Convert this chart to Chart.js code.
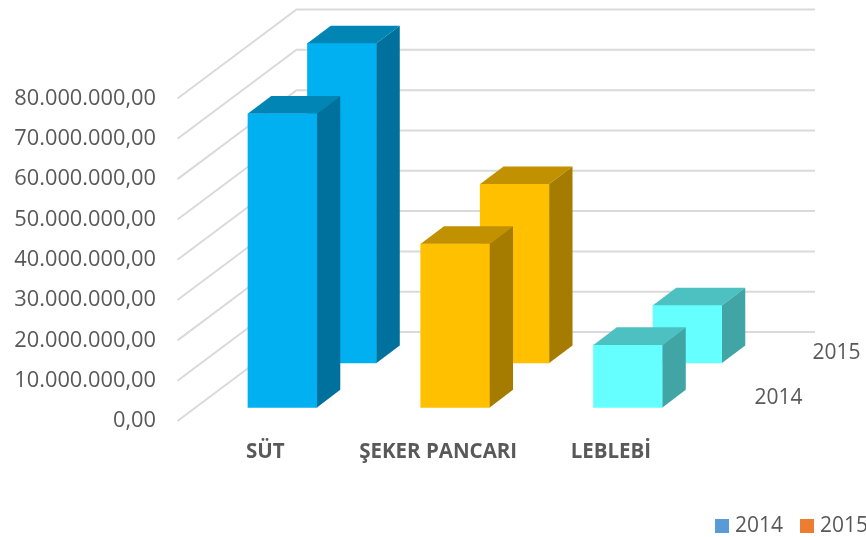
<!DOCTYPE html>
<html>
<head>
<meta charset="utf-8">
<style>html,body{margin:0;padding:0;background:#fff}canvas{display:block}</style>
<script src="https://cdn.jsdelivr.net/npm/chart.js@4"></script>
</head>
<body>
<canvas id="c" width="866" height="537"></canvas>
<script>
const categories = ['SÜT', 'ŞEKER PANCARI', 'LEBLEBİ'];
const series2014 = [72900000, 40600000, 15500000];
const series2015 = [79300000, 44400000, 14300000];
const seriesNames = ['2014', '2015'];
const legendColors = ['#5B9BD5', '#ED7D31'];
const frontColors = ['#00B0F0', '#FFC000', '#66FFFF'];
const topColors = ['#0085B5', '#C29100', '#4DC1C1'];
const sideColors = ['#00719C', '#A67C00', '#42A5A5'];
const yTickLabels = ['0,00','10.000.000,00','20.000.000,00','30.000.000,00','40.000.000,00','50.000.000,00','60.000.000,00','70.000.000,00','80.000.000,00'];

const FONT = '"Open Sans", sans-serif';
const TEXT = '#595959';
const shifts = [{dx: 17.1, dy: -13.6}, {dx: 76.6, dy: -58}];
const depth = {dx: 23.3, dy: -17.6};
const wall = {dx: 119, dy: -89, right: 815, leftPad: 1.5};
const depthLabels = [{t: '2014', x: 778.5, y: 398}, {t: '2015', x: 836.5, y: 353}];

function swatch(color) {
  const c = document.createElement('canvas');
  c.width = 14; c.height = 14;
  const g = c.getContext('2d');
  g.fillStyle = color; g.fillRect(0, 0, 14, 14);
  return c;
}

const bars3d = {
  id: 'bars3d',
  afterLayout(chart) {
    const l = chart.legend;
    l.left = 0; l.right = 889.5; l.top = 494;
  },
  beforeDatasetsDraw(chart) {
    const ctx = chart.ctx, y = chart.scales.y;
    ctx.save();
    ctx.strokeStyle = '#DADADA';
    ctx.lineWidth = 2;
    y.ticks.forEach((t, i) => {
      const py = y.getPixelForTick(i), x0 = y.right - wall.leftPad;
      ctx.beginPath();
      ctx.moveTo(x0, py);
      ctx.lineTo(x0 + wall.dx, py + wall.dy);
      ctx.lineTo(wall.right, py + wall.dy);
      ctx.stroke();
    });
    ctx.restore();
  },
  beforeDatasetDraw(chart, args) {
    const s = shifts[args.index];
    chart.ctx.save();
    chart.ctx.translate(s.dx, s.dy);
  },
  afterDatasetDraw(chart, args) {
    const ctx = chart.ctx;
    args.meta.data.forEach((b, i) => {
      const w = b.width / 2, l = b.x - w, r = b.x + w, t = b.y, base = b.base;
      ctx.fillStyle = topColors[i];
      ctx.beginPath();
      ctx.moveTo(l, t); ctx.lineTo(r, t);
      ctx.lineTo(r + depth.dx, t + depth.dy); ctx.lineTo(l + depth.dx, t + depth.dy);
      ctx.closePath(); ctx.fill();
      ctx.fillStyle = sideColors[i];
      ctx.beginPath();
      ctx.moveTo(r, t); ctx.lineTo(r + depth.dx, t + depth.dy);
      ctx.lineTo(r + depth.dx, base + depth.dy); ctx.lineTo(r, base);
      ctx.closePath(); ctx.fill();
    });
    ctx.restore();
  },
  afterDraw(chart) {
    const ctx = chart.ctx;
    ctx.save();
    ctx.font = '21px ' + FONT;
    ctx.fillStyle = TEXT;
    ctx.textAlign = 'center';
    ctx.textBaseline = 'middle';
    depthLabels.forEach(d => ctx.fillText(d.t, d.x, d.y));
    ctx.restore();
  }
};

new Chart(document.getElementById('c'), {
  type: 'bar',
  data: {
    labels: categories,
    datasets: [
      {label: seriesNames[0], data: series2014, backgroundColor: frontColors, order: 1, clip: false},
      {label: seriesNames[1], data: series2015, backgroundColor: frontColors, order: 2, clip: false}
    ]
  },
  options: {
    responsive: false,
    animation: false,
    layout: {padding: {top: 98.5, right: 168.75, left: 0, bottom: 0}},
    datasets: {bar: {grouped: false, barThickness: 69}},
    scales: {
      x: {
        grid: {display: false},
        border: {display: false},
        ticks: {color: TEXT, font: {family: FONT, size: 20.5, weight: 'bold'}, padding: 11, maxRotation: 0, autoSkip: false},
        afterFit: s => { s.height = 63.5; }
      },
      y: {
        min: 0, max: 80000000,
        grid: {display: false},
        border: {display: false},
        afterFit: s => { s.width = 179; },
        ticks: {
          stepSize: 10000000,
          color: TEXT,
          font: {family: FONT, size: 21.8},
          padding: 15,
          labelOffset: 0,
          callback: (v, i) => yTickLabels[i]
        }
      }
    },
    plugins: {
      tooltip: {enabled: false},
      legend: {
        position: 'bottom',
        align: 'end',
        labels: {
          color: TEXT,
          font: {family: FONT, size: 21},
          usePointStyle: true,
          boxWidth: 5,
          boxHeight: 14,
          padding: 21.5,
          generateLabels: () => seriesNames.map((n, i) => ({
            text: n, pointStyle: swatch(legendColors[i]), fontColor: TEXT, datasetIndex: i, lineWidth: 0, strokeStyle: 'transparent', fillStyle: legendColors[i]
          }))
        }
      }
    }
  },
  plugins: [bars3d]
});
</script>
</body>
</html>
